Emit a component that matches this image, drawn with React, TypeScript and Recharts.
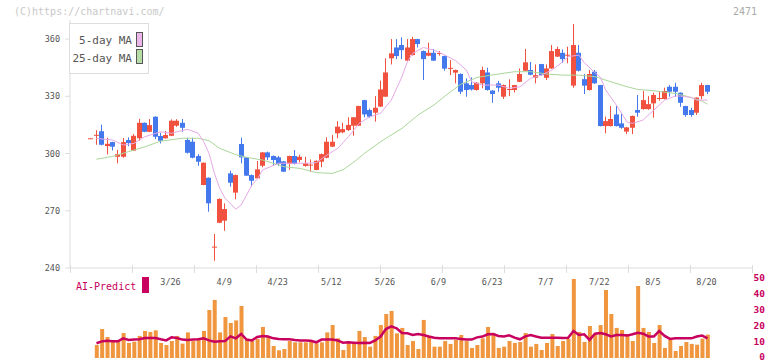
import React from 'react';
import { ComposedChart, Bar, Line, XAxis, YAxis } from 'recharts';

const W = 772;
const H = 361;
const FONT = '"DejaVu Sans Mono", monospace';
const RED = '#f0523f';
const BLUE = '#4479ee';
const PINK = '#e6a9e6';
const GREEN = '#aad79b';
const ORANGE = '#f0963e';
const MAGENTA = '#c8005e';
const GRID = '#dddddd';
const TEXT = '#555555';

const dates = [
  '3/4', '3/5', '3/6', '3/7', '3/10', '3/11', '3/12', '3/13', '3/14', '3/17',
  '3/18', '3/19', '3/21', '3/24', '3/25', '3/26', '3/27', '3/28', '3/31', '4/1',
  '4/2', '4/3', '4/4', '4/7', '4/8', '4/9', '4/10', '4/11', '4/14', '4/15',
  '4/16', '4/17', '4/18', '4/21', '4/22', '4/23', '4/24', '4/25', '4/28', '4/30',
  '5/1', '5/2', '5/7', '5/8', '5/9', '5/12', '5/13', '5/14', '5/15', '5/16',
  '5/19', '5/20', '5/21', '5/22', '5/23', '5/26', '5/27', '5/28', '5/29', '5/30',
  '6/2', '6/3', '6/4', '6/5', '6/6', '6/9', '6/10', '6/11', '6/12', '6/13',
  '6/16', '6/17', '6/18', '6/19', '6/20', '6/23', '6/24', '6/25', '6/26', '6/27',
  '6/30', '7/1', '7/2', '7/3', '7/4', '7/7', '7/8', '7/9', '7/10', '7/11',
  '7/14', '7/15', '7/16', '7/17', '7/18', '7/22', '7/23', '7/24', '7/25', '7/28',
  '7/29', '7/30', '7/31', '8/1', '8/4', '8/5', '8/6', '8/7', '8/8', '8/12',
  '8/13', '8/14', '8/15', '8/18', '8/19', '8/20',
];

const opens = [
  308.0, 309.4, 311.7, 303.9, 306.0, 298.3, 298.3, 307.1, 301.5, 308.0,
  316.1, 311.4, 319.3, 309.2, 308.0, 309.3, 314.6, 316.1, 307.1, 306.2,
  298.7, 283.5, 287.3, 250.8, 263.7, 264.8, 289.6, 279.5, 305.0, 298.0,
  288.7, 287.0, 293.6, 300.6, 298.7, 298.0, 295.9, 294.5, 298.7, 296.6,
  293.5, 293.8, 291.4, 295.7, 297.8, 303.6, 310.6, 311.1, 312.3, 314.6,
  314.6, 328.0, 322.8, 321.4, 324.6, 329.8, 349.9, 355.6, 356.9, 348.7,
  351.6, 360.0, 353.7, 351.3, 352.8, 352.3, 351.1, 344.5, 342.4, 341.7,
  336.8, 335.9, 333.3, 336.8, 342.5, 333.0, 336.8, 329.8, 333.4, 333.3,
  337.6, 343.4, 343.8, 339.7, 346.9, 339.7, 344.6, 350.8, 352.8, 351.4,
  335.6, 352.8, 339.0, 333.3, 342.9, 335.9, 314.4, 314.4, 320.5, 315.8,
  311.5, 313.5, 322.8, 323.3, 323.3, 326.3, 328.7, 328.6, 335.0, 335.0,
  331.9, 324.9, 322.8, 321.4, 330.1, 335.9,
];

const highs = [
  308.2, 312.2, 315.1, 308.3, 306.2, 301.9, 308.1, 308.5, 310.2, 318.2,
  316.3, 318.1, 319.5, 310.9, 311.8, 317.9, 318.0, 318.1, 308.3, 308.3,
  299.7, 295.3, 287.5, 257.8, 276.5, 273.9, 291.0, 289.0, 308.3, 298.2,
  289.0, 296.1, 300.8, 301.0, 299.0, 298.7, 296.0, 298.9, 301.8, 299.4,
  298.3, 296.9, 296.4, 300.0, 308.5, 309.7, 317.0, 316.2, 319.0, 319.2,
  325.1, 328.2, 323.6, 330.1, 338.2, 349.9, 360.0, 360.0, 360.9, 360.0,
  361.2, 360.2, 354.0, 358.1, 354.8, 353.7, 351.3, 349.0, 344.0, 342.0,
  339.4, 339.9, 337.5, 345.5, 345.0, 333.3, 338.0, 336.2, 338.9, 336.0,
  344.6, 354.8, 348.0, 346.7, 347.0, 346.7, 356.9, 356.0, 354.6, 356.0,
  367.9, 356.9, 341.7, 343.8, 343.8, 336.0, 319.3, 324.9, 324.9, 321.0,
  314.0, 319.9, 330.7, 332.8, 330.1, 331.9, 332.8, 334.5, 335.9, 337.1,
  332.0, 325.0, 324.0, 329.5, 337.1, 336.0,
];

const lows = [
  307.9, 304.6, 304.3, 299.5, 301.6, 294.9, 297.8, 303.8, 301.3, 306.7,
  311.2, 311.2, 307.6, 305.3, 307.8, 309.1, 314.0, 311.4, 300.0, 297.5,
  293.6, 283.4, 269.5, 243.8, 263.5, 259.5, 282.6, 276.0, 294.9, 288.2,
  282.6, 286.8, 292.8, 296.6, 293.6, 293.6, 290.3, 291.4, 294.3, 295.4,
  293.1, 290.5, 291.2, 292.8, 297.5, 303.4, 308.0, 310.6, 311.8, 309.3,
  314.4, 319.0, 318.8, 316.7, 324.4, 329.6, 346.7, 349.5, 349.5, 348.5,
  351.4, 355.6, 338.5, 351.0, 348.5, 351.3, 343.4, 341.1, 336.8, 331.2,
  329.8, 333.0, 333.0, 334.2, 333.0, 326.6, 332.4, 328.6, 330.1, 332.0,
  337.4, 343.2, 341.0, 336.8, 340.9, 338.5, 344.4, 350.6, 347.6, 347.3,
  334.5, 343.0, 331.2, 333.0, 336.6, 314.2, 310.6, 314.2, 314.2, 313.0,
  310.2, 310.2, 319.3, 323.0, 323.0, 318.8, 327.7, 328.4, 329.8, 329.8,
  324.5, 319.3, 319.3, 320.2, 328.4, 331.2,
];

const closes = [
  308.0, 309.8, 304.6, 305.1, 303.6, 299.7, 306.0, 305.5, 309.3, 316.1,
  311.4, 314.9, 308.8, 306.7, 309.7, 317.2, 317.2, 313.5, 300.4, 297.8,
  295.7, 295.2, 273.9, 251.2, 276.2, 270.9, 284.7, 288.7, 298.0, 288.4,
  285.7, 291.7, 300.6, 298.0, 296.6, 294.5, 290.5, 298.7, 294.5, 298.3,
  294.9, 294.2, 296.2, 299.7, 306.2, 306.2, 314.1, 312.8, 315.0, 319.0,
  324.9, 320.5, 319.3, 324.0, 333.6, 342.5, 352.5, 351.1, 354.2, 355.6,
  360.0, 357.4, 349.5, 352.8, 348.7, 352.7, 344.5, 344.9, 343.8, 332.4,
  333.3, 333.6, 337.1, 343.8, 333.3, 331.2, 334.5, 335.9, 333.8, 335.9,
  341.7, 347.8, 341.3, 341.1, 341.1, 344.6, 353.7, 354.8, 349.5, 351.8,
  356.9, 343.4, 335.6, 341.7, 336.8, 314.4, 317.0, 318.1, 314.4, 313.5,
  313.7, 319.7, 321.4, 328.0, 325.9, 330.7, 329.1, 332.8, 332.4, 332.4,
  326.6, 320.2, 320.2, 329.3, 335.9, 332.4,
];

const volumes = [
  0, 8.1, 18.1, 13.1, 11.0, 10.6, 15.6, 9.4, 10.2, 13.8,
  16.9, 16.3, 17.3, 9.4, 8.1, 10.6, 13.8, 9.0, 16.0, 10.6,
  12.5, 16.9, 30.0, 36.3, 16.0, 25.6, 21.9, 23.5, 32.5, 11.6,
  10.6, 11.9, 19.4, 13.1, 7.5, 4.8, 5.6, 10.6, 9.8, 9.8,
  9.8, 10.6, 9.2, 9.8, 16.0, 20.6, 12.3, 5.0, 9.4, 9.6,
  16.9, 13.1, 7.1, 13.8, 20.6, 27.5, 29.4, 15.4, 18.8, 8.1,
  10.6, 5.6, 23.8, 13.8, 7.1, 7.1, 10.6, 8.8, 11.3, 14.4,
  10.6, 6.3, 8.1, 12.3, 19.4, 15.6, 6.3, 7.1, 10.6, 9.4,
  10.0, 15.6, 7.1, 8.8, 5.0, 9.4, 15.0, 7.5, 10.6, 11.9,
  49.4, 16.3, 10.0, 20.0, 15.0, 20.6, 42.5, 27.5, 18.8, 17.5,
  15.0, 10.6, 45.0, 18.8, 16.3, 9.4, 20.6, 6.3, 11.3, 4.4,
  7.5, 10.0, 8.8, 8.3, 12.1, 14.6,
];

const aiPredict = [
  null, 9.2, 10.4, 10.8, 10.4, 10.4, 12.3, 11.3, 11.5, 11.7,
  12.5, 12.5, 12.5, 11.7, 11.0, 12.9, 12.5, 11.5, 11.3, 11.5,
  11.7, 12.3, 11.0, 10.2, 10.4, 10.6, 13.5, 12.3, 15.0, 11.5,
  11.0, 13.1, 13.8, 13.4, 12.3, 11.9, 11.7, 11.7, 11.3, 11.0,
  11.0, 10.8, 9.8, 11.5, 11.5, 11.5, 11.0, 9.6, 9.8, 9.6,
  9.4, 9.6, 9.4, 11.0, 13.4, 18.1, 19.8, 18.5, 15.6, 15.4,
  14.4, 15.0, 14.4, 13.4, 12.7, 12.3, 12.3, 12.3, 12.3, 11.9,
  11.5, 11.5, 12.9, 13.4, 14.8, 15.0, 13.8, 13.4, 14.2, 12.7,
  11.7, 13.5, 14.4, 13.4, 12.7, 12.7, 12.7, 12.7, 12.5, 12.7,
  16.9, 14.4, 14.8, 11.3, 15.2, 15.6, 14.8, 13.5, 14.4, 14.4,
  14.0, 14.8, 15.8, 15.2, 13.5, 13.5, 16.9, 13.8, 11.9, 12.3,
  12.3, 12.3, 12.3, 13.4, 14.0, 12.3,
];

// moving averages at these candle indices
const ma5At = [
  1, 4, 6, 8, 10, 13, 15, 16, 18, 20, 21, 22, 23, 24, 25, 27, 28, 29, 30, 31,
  32, 35, 38, 40, 42, 44, 46, 48, 50, 52, 54, 56, 58, 59, 60, 62, 64, 66, 68, 70,
  71, 73, 76, 78, 80, 82, 84, 86, 88, 89, 91, 92, 94, 95, 96, 98, 100, 101, 103, 105,
  107, 109, 110, 112, 113, 115,
];
const ma5 = [
  307.9, 307.1, 304.5, 305.3, 308.8, 311.4, 310.6, 311.4, 312.7, 310.6,
  306.2, 300.1, 289.6, 281.7, 276.5, 270.9, 273.0, 278.2, 283.5, 286.6,
  291.4, 294.9, 294.9, 294.9, 295.2, 299.2, 302.7, 308.8, 315.8, 319.3,
  321.1, 328.0, 340.3, 348.1, 352.5, 355.6, 354.2, 351.6, 348.7, 343.8,
  337.6, 335.9, 335.9, 334.2, 335.0, 339.4, 341.1, 343.8, 348.1, 350.8,
  351.6, 347.6, 342.4, 340.0, 333.3, 325.4, 316.5, 315.8, 317.6, 322.8,
  328.0, 330.1, 330.1, 329.4, 328.0, 328.0,
];
const ma25At = [
  1, 4, 7, 10, 13, 17, 20, 22, 24, 27, 29, 32, 36, 39, 42, 45, 47, 49, 51, 54,
  58, 61, 64, 66, 69, 72, 76, 79, 82, 85, 88, 91, 94, 97, 100, 102, 105, 109, 111, 114,
  115,
];
const ma25 = [
  297.0, 298.5, 301.0, 303.5, 306.5, 308.0, 308.0, 306.7, 302.7, 299.4,
  298.0, 296.6, 293.1, 292.2, 290.0, 289.6, 291.5, 295.5, 300.1, 306.2,
  313.2, 320.2, 325.5, 330.1, 336.4, 339.9, 341.7, 342.9, 342.9, 341.7,
  341.1, 341.1, 340.3, 337.6, 335.0, 333.6, 332.9, 331.5, 330.1, 327.5,
  325.9,
];

const labelDates = ['3/26', '4/9', '4/23', '5/12', '5/26', '6/9', '6/23', '7/7', '7/22', '8/5', '8/20'];
const priceTicks = [240, 270, 300, 330, 360];
const volumeTicks = [0, 10, 20, 30, 40, 50];

// x domain in candle units, plot runs 70..752
const X_DOMAIN: [number, number] = [-3.94, 123.3];
const frameTicks = Array.from({ length: 12 }, (_, k) => X_DOMAIN[0] + (k * (X_DOMAIN[1] - X_DOMAIN[0])) / 11);
const labelTicks = labelDates.map((d) => dates.indexOf(d));
const axisTicks = [...frameTicks, ...labelTicks].sort((a, b) => a - b);

const rows = dates.map((date, i) => {
  const a = ma5At.indexOf(i);
  const b = ma25At.indexOf(i);
  return {
    i,
    date,
    open: opens[i],
    high: highs[i],
    low: lows[i],
    close: closes[i],
    range: [lows[i], highs[i]],
    ma5: a >= 0 ? ma5[a] : null,
    ma25: b >= 0 ? ma25[b] : null,
    volume: volumes[i],
    ai: aiPredict[i],
  };
});

const Candle = (props: any) => {
  const { x, y, width, height, payload } = props;
  if (!payload || x == null || y == null) return null;
  const { open, close, high, low } = payload;
  const top = Math.min(y, y + height);
  const bot = Math.max(y, y + height);
  const span = high - low;
  const toY = (v: number) => (span === 0 ? top : top + ((high - v) / span) * (bot - top));
  const color = close >= open ? RED : BLUE;
  const bTop = toY(Math.max(open, close));
  const bBot = toY(Math.min(open, close));
  const cx = Math.floor(x + width / 2) + 0.5;
  return (
    <g>
      <line x1={cx} x2={cx} y1={top} y2={bot} stroke={color} strokeWidth={1} />
      <rect x={Math.round(x)} y={bTop} width={width} height={Math.max(1, bBot - bTop)} fill={color} />
    </g>
  );
};

// one axis carries both the plain frame ticks and the date labels
const AxisTick = (props: any) => {
  const { x, y, payload } = props;
  const v = payload.value;
  if (Number.isInteger(v) && labelTicks.includes(v)) {
    return (
      <text x={x - 1} y={y + 17} textAnchor="middle" fontSize={8.5} fontFamily={FONT} fill={TEXT}>
        {dates[v]}
      </text>
    );
  }
  const px = Math.round(x) + 0.5;
  return <line x1={px} x2={px} y1={y - 3} y2={y + 5} stroke={GRID} strokeWidth={1} />;
};

const VolTick = (props: any) => {
  const { y, payload } = props;
  return (
    <text x={765} y={Math.min(y + 2.6, 359.5)} textAnchor="end" fontSize={9.5} fontWeight="bold" fontFamily={FONT} fill={MAGENTA}>
      {payload.value}
    </text>
  );
};

export default function App() {
  return (
    <div style={{ position: 'absolute', left: 0, top: 0, width: W, height: H, background: '#fff' }}>
      <div style={{ position: 'absolute', left: 0, top: 0 }}>
        <ComposedChart width={W} height={H} data={rows} margin={{ top: 20, right: 20, bottom: 63, left: 0 }}>
          <XAxis
            dataKey="i"
            type="number"
            domain={X_DOMAIN}
            allowDataOverflow
            ticks={axisTicks}
            interval={0}
            height={30}
            axisLine={{ stroke: GRID }}
            tickLine={false}
            tickSize={0}
            tickMargin={0}
            tick={<AxisTick />}
          />
          <YAxis
            domain={[240, 370]}
            allowDataOverflow
            ticks={priceTicks}
            interval={0}
            width={70}
            tickSize={5}
            tickMargin={5}
            axisLine={{ stroke: GRID }}
            tickLine={{ stroke: GRID }}
            tick={{ fontSize: 8.5, fontFamily: FONT, fill: TEXT }}
          />
          <Line dataKey="ma25" stroke={GREEN} strokeWidth={1} dot={false} connectNulls isAnimationActive={false} />
          <Line dataKey="ma5" stroke={PINK} strokeWidth={1} dot={false} connectNulls isAnimationActive={false} />
          <Bar dataKey="range" barSize={5} shape={(p: any) => <Candle {...p} />} isAnimationActive={false} />
        </ComposedChart>
      </div>
      <div style={{ position: 'absolute', left: 0, top: 0 }}>
        <ComposedChart width={W} height={H} data={rows} margin={{ top: 278, right: 0, bottom: 3, left: 70 }}>
          <XAxis dataKey="i" type="number" domain={X_DOMAIN} allowDataOverflow hide />
          <YAxis
            orientation="right"
            domain={[0, 50]}
            allowDataOverflow
            ticks={volumeTicks}
            interval={0}
            width={20}
            axisLine={false}
            tickLine={false}
            tick={<VolTick />}
          />
          <Bar dataKey="volume" barSize={4} fill={ORANGE} isAnimationActive={false} />
          <Line dataKey="ai" stroke={MAGENTA} strokeWidth={2.5} dot={false} connectNulls isAnimationActive={false} />
        </ComposedChart>
      </div>
      <svg width={W} height={H} style={{ position: 'absolute', left: 0, top: 0, pointerEvents: 'none' }}>
        <text x={14} y={15} fontSize={10} fontFamily={FONT} fill="#c8c8c8">(C)https://chartnavi.com/</text>
        <text x={757} y={15} textAnchor="end" fontSize={10} fontFamily={FONT} fill="#aaaaaa">2471</text>
        <rect x={69.5} y={23.5} width={79} height={50} fill="#fff" stroke={GRID} />
        <text x={132} y={44} textAnchor="end" fontSize={11} fontFamily={FONT} fill={TEXT}>5-day MA</text>
        <rect x={136.5} y={32.5} width={6} height={14} fill="#ebb7eb" stroke="#555" />
        <text x={132} y={62} textAnchor="end" fontSize={11} fontFamily={FONT} fill={TEXT}>25-day MA</text>
        <rect x={136.5} y={49.5} width={6} height={14} fill="#b5dda5" stroke="#555" />
        <text x={76} y={290} fontSize={10} fontFamily={FONT} fill={MAGENTA}>AI-Predict</text>
        <rect x={142} y={277} width={7} height={16} fill={MAGENTA} />
      </svg>
    </div>
  );
}
